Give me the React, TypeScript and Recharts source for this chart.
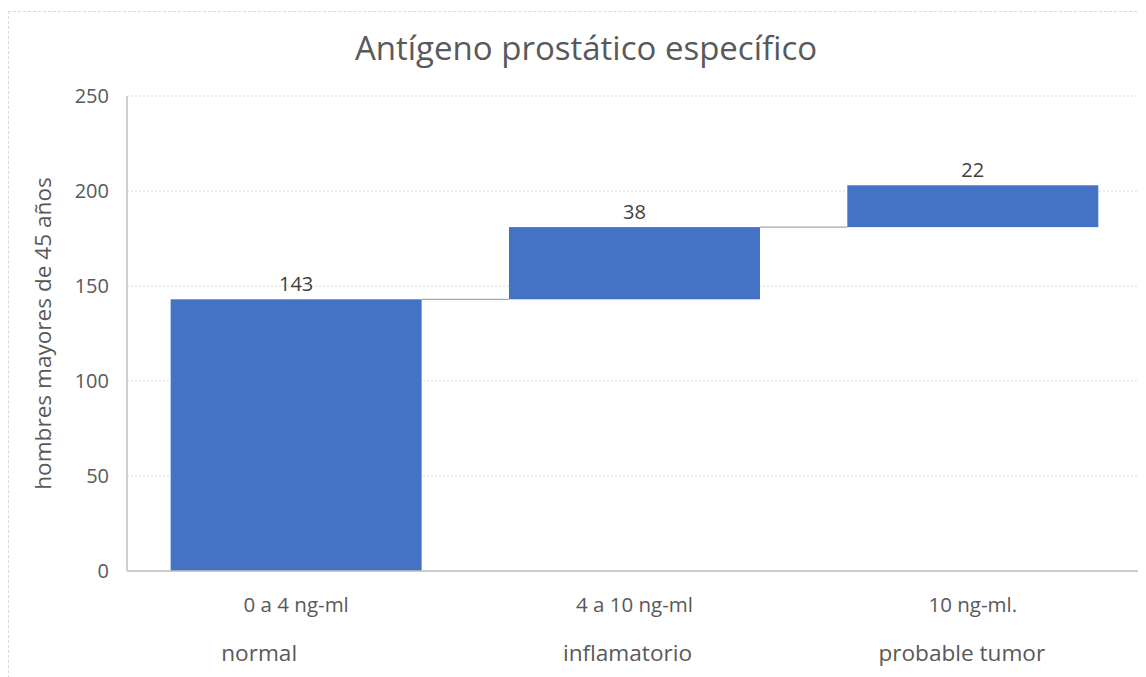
import { Bar, BarChart, CartesianGrid, Label, LabelList, XAxis, YAxis } from "recharts";

const categories = ["0 a 4 ng-ml", "4 a 10 ng-ml", "10 ng-ml."];
const subLabels = ["normal", "inflamatorio", "probable tumor"];
const increments = [143, 38, 22];
const yTicks = [0, 50, 100, 150, 200, 250];

const data = categories.map((category, i) => {
  const base = increments.slice(0, i).reduce((a, b) => a + b, 0);
  return { category, sub: subLabels[i], base, value: increments[i] };
});

const FONT = "'Open Sans', sans-serif";
const TEXT = "#595959";
const CATEGORY_GAP = 0.129;
// second-line labels in the original sit slightly left of the first line
const SUB_SHIFT = [-37, -7, -11];

function WaterfallBar(props: any) {
  const { x, y, width, height, index } = props;
  const band = width / (1 - 2 * CATEGORY_GAP);
  const gap = band - width;
  return (
    <g>
      <rect x={x} y={y} width={width} height={height} fill="#4472C4" />
      {index < data.length - 1 && (
        <line x1={x + width} x2={x + width + gap} y1={y} y2={y} stroke="#a6a6a6" strokeWidth={1.2} />
      )}
    </g>
  );
}

function CategoryTick(props: any) {
  const { x, y, payload, index } = props;
  const row = data[index] ?? data.find((d) => d.category === payload.value);
  return (
    <g>
      <text x={x} y={y + 41} textAnchor="middle" fill={TEXT} fontSize={20.5} fontFamily={FONT}>
        {payload.value}
      </text>
      <text x={x + (SUB_SHIFT[index] ?? 0)} y={y + 90} textAnchor="middle" fill={TEXT} fontSize={22.6} fontFamily={FONT}>
        {row?.sub}
      </text>
    </g>
  );
}

export default function App() {
  return (
    <div style={{ position: "relative", width: 1138, height: 669, fontFamily: FONT }}>
      <div
        style={{
          position: "absolute",
          left: 0,
          top: 3,
          width: 1138,
          height: 666,
          borderLeft: "1px dashed #d9d9d9",
          borderTop: "1px dashed #d9d9d9",
        }}
      />
      <div
        style={{
          position: "absolute",
          left: 0,
          top: 23,
          width: 1156,
          textAlign: "center",
          fontSize: 33,
          lineHeight: "33px",
          color: TEXT,
        }}
      >
        Antígeno prostático específico
      </div>
      <BarChart
        width={1138}
        height={669}
        data={data}
        margin={{ top: 88, right: 4, left: 0, bottom: 6 }}
        barCategoryGap={`${CATEGORY_GAP * 100}%`}
        style={{ position: "absolute", left: 0, top: 0 }}
      >
        <CartesianGrid vertical={false} stroke="#d9d9d9" strokeDasharray="2 2" />
        <XAxis
          dataKey="category"
          height={100}
          axisLine={{ stroke: "#bfbfbf", strokeWidth: 1.5 }}
          tickLine={false}
          tickSize={0}
          tickMargin={0}
          tick={<CategoryTick />}
          interval={0}
        />
        <YAxis
          width={119}
          domain={[0, 250]}
          ticks={yTicks}
          axisLine={{ stroke: "#bfbfbf", strokeWidth: 1.5 }}
          tickLine={false}
          tickSize={0}
          tickMargin={18}
          tick={{ fill: TEXT, fontSize: 20, fontFamily: FONT }}
        >
          <Label
            content={(p: any) => {
              const vb = p.viewBox;
              const cx = 34;
              const cy = vb.y + vb.height / 2;
              return (
                <text
                  x={cx}
                  y={cy}
                  transform={`rotate(-90 ${cx} ${cy})`}
                  textAnchor="middle"
                  dominantBaseline="central"
                  fill={TEXT}
                  fontSize={22.6}
                  fontFamily={FONT}
                >
                  hombres mayores de 45 años
                </text>
              );
            }}
          />
        </YAxis>
        <Bar dataKey="base" stackId="w" fill="transparent" isAnimationActive={false} />
        <Bar dataKey="value" stackId="w" shape={<WaterfallBar />} isAnimationActive={false}>
          <LabelList dataKey="value" position="top" offset={8} fill="#404040" fontSize={20} fontFamily={FONT} />
        </Bar>
      </BarChart>
    </div>
  );
}
